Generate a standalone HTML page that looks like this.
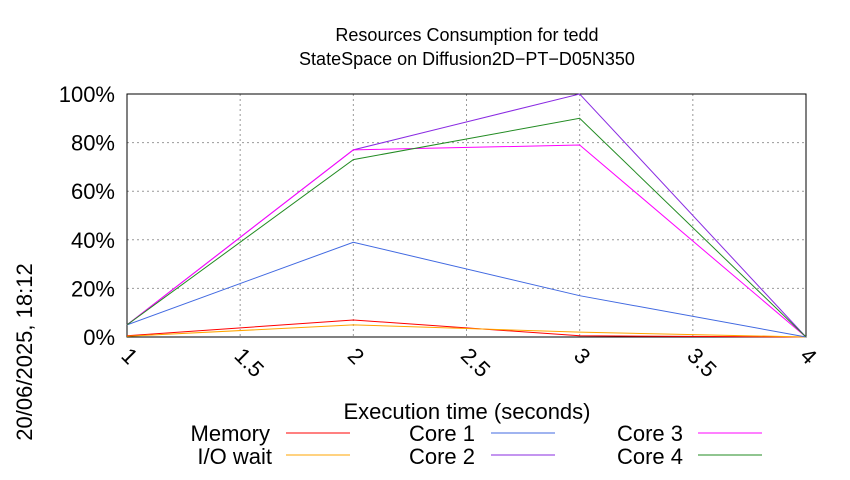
<!DOCTYPE html>
<html><head><meta charset="utf-8"><style>
body{margin:0;background:#fff;}
svg{font-family:"Liberation Sans",sans-serif;}
</style></head><body>
<svg width="850" height="475" xmlns="http://www.w3.org/2000/svg">
<g id="plot"></g>
</svg>
<script>
const xValues=[1,2,3,4];
const memory=[0.5,7,0.5,0];
const ioWait=[0.3,5,2,0];
const core1=[5,39,17,0];
const core2=[5,77,100,0];
const core3=[5,77,79,0];
const core4=[5,73,90,0];
const xTicks=["1","1.5","2","2.5","3","3.5","4"];
const xTickVals=[1,1.5,2,2.5,3,3.5,4];
const yTickVals=[0,20,40,60,80,100];
const L=127,R=806,T=94,B=337;
const sx=v=>L+(v-1)/3*(R-L);
const sy=v=>B-v/100*(B-T);
const NS="http://www.w3.org/2000/svg";
const svg=document.querySelector('svg');
function mk(tag,attrs,parent){const e=document.createElementNS(NS,tag);for(const k in attrs)e.setAttribute(k,attrs[k]);(parent||svg).appendChild(e);return e;}
xTickVals.forEach((v,i)=>{
 const g=mk('line',{x1:sx(v),x2:sx(v),y1:T,y2:B,stroke:'#999','stroke-dasharray':'2,3','stroke-width':1});
 
 
 const t=mk('text',{x:sx(v)-7,y:B+20,'font-size':22,transform:`rotate(45 ${sx(v)-7} ${B+20})`});
 t.textContent=xTicks[i];
 
 
});
yTickVals.forEach(v=>{
 const g=mk('line',{x1:L,x2:R,y1:sy(v),y2:sy(v),stroke:'#999','stroke-dasharray':'2,3','stroke-width':1});
 
 
 const t=mk('text',{x:L-12,y:sy(v)+8,'font-size':22,'text-anchor':'end'});
 t.textContent=v+'%';
 
 
});
const frame=mk('rect',{x:L,y:T,width:R-L,height:B-T,fill:'none',stroke:'#000','stroke-width':1});


const series=[["memory",memory,"#ff0000"],["io-wait",ioWait,"#ffa500"],["core-1",core1,"#4169e1"],["core-2",core2,"#8a2be2"],["core-3",core3,"#ff00ff"],["core-4",core4,"#228b22"]];
series.forEach(([n,d,c])=>{
 const p=mk('polyline',{points:d.map((v,i)=>sx(xValues[i])+','+sy(v)).join(' '),fill:'none',stroke:c,'stroke-width':1});
 
 
});
</script>
<svg width="850" height="475" style="position:absolute;left:0;top:0" xmlns="http://www.w3.org/2000/svg">
<text x="467" y="41" font-size="18" text-anchor="middle">Resources Consumption for tedd</text>
<text x="467" y="65" font-size="18" text-anchor="middle">StateSpace on Diffusion2D−PT−D05N350</text>
<text x="467" y="419" font-size="22" text-anchor="middle">Execution time (seconds)</text>
<text x="0" y="0" font-size="22" text-anchor="middle" transform="translate(32 352) rotate(-90)">20/06/2025, 18:12</text>
<g font-size="22" text-anchor="end">
<text x="270" y="441">Memory</text>
<line x1="286" x2="350" y1="433" y2="433" stroke="#ff0000"/>
<text x="272" y="464">I/O wait</text>
<line x1="286" x2="350" y1="455" y2="455" stroke="#ffa500"/>
<text x="475" y="441">Core 1</text>
<line x1="491" x2="555" y1="433" y2="433" stroke="#4169e1"/>
<text x="475" y="464">Core 2</text>
<line x1="491" x2="555" y1="455" y2="455" stroke="#8a2be2"/>
<text x="683" y="441">Core 3</text>
<line x1="698" x2="762" y1="433" y2="433" stroke="#ff00ff"/>
<text x="683" y="464">Core 4</text>
<line x1="698" x2="762" y1="455" y2="455" stroke="#228b22"/>
</g>
</svg>
</body></html>
